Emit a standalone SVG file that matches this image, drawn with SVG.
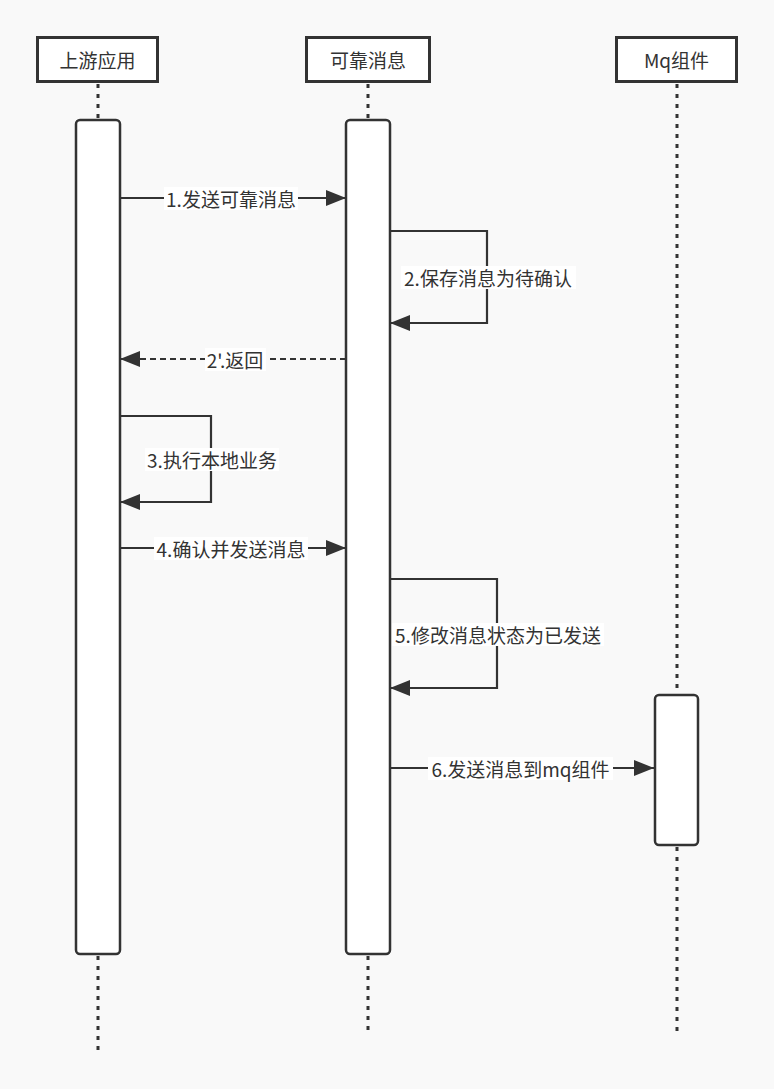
<svg xmlns="http://www.w3.org/2000/svg" width="774" height="1089" viewBox="0 0 774 1089">
<defs>
<style>
.t{font-family:"Noto Sans CJK SC","Microsoft YaHei","Noto Sans",sans-serif;font-size:19px;fill:#333;text-anchor:middle;dominant-baseline:central}
.hd{fill:#fff;stroke:#333;stroke-width:3}
.act{fill:#fff;stroke:#333;stroke-width:2.5}
.life{stroke:#333;stroke-width:3;stroke-dasharray:4 6;fill:none}
.msg{stroke:#333;stroke-width:2.2;fill:none}
.dash{stroke-dasharray:6 4}
.lb{fill:#fff}
</style>
<marker id="ah" viewBox="0 0 20 16" refX="20" refY="8" markerWidth="20" markerHeight="16" markerUnits="userSpaceOnUse" orient="auto">
<path d="M0,0 L20,8 L0,16 Z" fill="#333"/>
</marker>
</defs>
<rect width="774" height="1089" fill="#f9f9f9"/>
<g id="lifelines">
<line class="life" x1="98" y1="84" x2="98" y2="120"/>
<line class="life" x1="98" y1="956" x2="98" y2="1052"/>
<line class="life" x1="368" y1="84" x2="368" y2="120"/>
<line class="life" x1="368" y1="956" x2="368" y2="1032"/>
<line class="life" x1="677" y1="84" x2="677" y2="695"/>
<line class="life" x1="677" y1="847" x2="677" y2="1032"/>
</g>
<g id="node-upstream">
<rect class="hd" x="37.5" y="37.5" width="120" height="44"/>
<text class="t" x="97.5" y="59.5">上游应用</text>
<rect class="act" x="76" y="120" width="44" height="834" rx="4"/>
</g>
<g id="node-reliable">
<rect class="hd" x="306.5" y="37.5" width="123" height="44"/>
<text class="t" x="368" y="59.5">可靠消息</text>
<rect class="act" x="346" y="120" width="44" height="834" rx="4"/>
</g>
<g id="node-mq">
<rect class="hd" x="616.5" y="37.5" width="120" height="44"/>
<text class="t" x="676.5" y="59.5">Mq组件</text>
<rect class="act" x="655" y="695" width="43" height="150" rx="4"/>
</g>
<g id="connectors">
<line class="msg" x1="120" y1="198" x2="346" y2="198" marker-end="url(#ah)"/>
<rect class="lb" x="164" y="187" width="134" height="23"/>
<text class="t" x="231" y="198">1.发送可靠消息</text>

<polyline class="msg" points="390,231 487,231 487,323 390,323" marker-end="url(#ah)"/>
<rect class="lb" x="401" y="266" width="175" height="23"/>
<text class="t" x="488" y="277">2.保存消息为待确认</text>

<line class="msg dash" x1="346" y1="359" x2="120" y2="359" marker-end="url(#ah)"/>
<rect class="lb" x="205" y="348" width="61" height="23"/>
<text class="t" x="235" y="359">2'.返回</text>

<polyline class="msg" points="120,416 211,416 211,502 120,502" marker-end="url(#ah)"/>
<rect class="lb" x="145" y="448" width="134" height="23"/>
<text class="t" x="212" y="459">3.执行本地业务</text>

<line class="msg" x1="120" y1="548" x2="346" y2="548" marker-end="url(#ah)"/>
<rect class="lb" x="154" y="537" width="154" height="23"/>
<text class="t" x="231" y="548">4.确认并发送消息</text>

<polyline class="msg" points="390,579 497,579 497,688 390,688" marker-end="url(#ah)"/>
<rect class="lb" x="392" y="623" width="212" height="23"/>
<text class="t" x="498" y="634">5.修改消息状态为已发送</text>

<line class="msg" x1="390" y1="768" x2="654" y2="768" marker-end="url(#ah)"/>
<rect class="lb" x="428" y="757" width="185" height="23"/>
<text class="t" x="520.5" y="768">6.发送消息到mq组件</text>
</g>
</svg>
